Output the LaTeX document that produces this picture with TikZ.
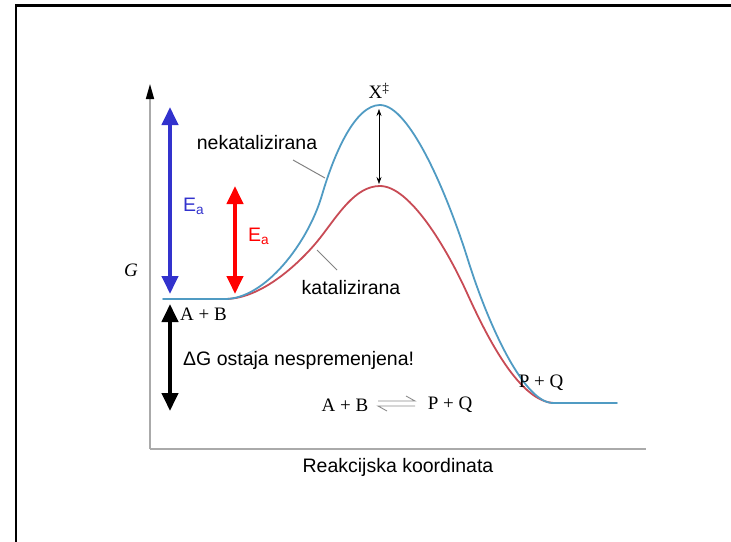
\documentclass[tikz,border=0pt]{standalone}
\usepackage{fontspec}
\setmainfont{Liberation Serif}
\setsansfont{Liberation Sans}
\usetikzlibrary{arrows.meta}
\definecolor{blueC}{RGB}{80,155,195}
\definecolor{redC}{RGB}{200,75,85}
\definecolor{eaBlue}{RGB}{50,50,205}
\definecolor{eaRed}{RGB}{255,0,0}
\definecolor{axisgray}{RGB}{170,170,170}
\definecolor{leadgray}{RGB}{130,130,130}
\definecolor{harpgray}{RGB}{140,140,140}
\begin{document}
\begin{tikzpicture}[x=1pt,y=-1pt,
  sanslab/.style={font=\sffamily\fontsize{19.5}{23}\selectfont, inner sep=0pt},
  seriflab/.style={font=\fontsize{19}{22}\selectfont, inner sep=0pt},
  curve/.style={line width=1.8pt, line join=round, line cap=round},
  bigarrow/.style={line width=4pt, {Triangle[width=16pt,length=18pt]}-{Triangle[width=16pt,length=18pt]}},
  leader/.style={leadgray, line width=1pt},
  harp/.style={harpgray, line width=0.9pt},
]
\useasboundingbox (0,0) rectangle (731,541);
\clip (0,0) rectangle (731,541);
% frame
\draw[line width=2.5pt] (16,560) -- (16,5.5) -- (760,5.5);
% axes
\coordinate (ytop) at (150,84);
\coordinate (orig) at (150,449);
\coordinate (xend) at (646,449);
\draw[axisgray, line width=1.5pt] (orig) -- (xend);
\draw[axisgray, line width=1.5pt, -{Triangle[width=8pt,length=15pt,color=black]}] (orig) -- (ytop);
% catalysed curve
\draw[redC, curve] (225,299)
  .. controls (265,299) and (306,256) .. (320,238)
  .. controls (338,215) and (355,186) .. (380,186)
  .. controls (410,186) and (447,249) .. (467,293)
  .. controls (487,337) and (520,403) .. (555,403);
% uncatalysed curve
\draw[blueC, curve] (163,299) -- (225,299)
  .. controls (265,299) and (308,243) .. (322,195)
  .. controls (334,154) and (355,105) .. (380,105)
  .. controls (410,105) and (448,196) .. (468,260)
  .. controls (490,330) and (525,403) .. (553,403)
  -- (617,403);
% peak difference arrow
\coordinate (pkB) at (379,109);
\coordinate (pkR) at (379,184);
\draw[line width=0.6pt, {Stealth[length=7pt,width=5pt]}-{Stealth[length=7pt,width=5pt]}] (pkB) -- (pkR);
% activation energy arrows
\coordinate (eaBt) at (170,107);
\coordinate (eaBb) at (170,294);
\coordinate (eaRt) at (235,186);
\coordinate (eaRb) at (235,294);
\coordinate (dGt) at (170,304);
\coordinate (dGb) at (170,411);
\draw[bigarrow, eaBlue] (eaBt) -- (eaBb);
\draw[bigarrow, eaRed] (eaRt) -- (eaRb);
\draw[bigarrow, black] (dGt) -- (dGb);
% labels
\node[sanslab, eaBlue, anchor=west] (eaBl) at (183,206) {E\textsubscript{a}};
\node[sanslab, eaRed, anchor=west] (eaRl) at (248,236) {E\textsubscript{a}};
\node[sanslab] (nek) at (257,143) {nekatalizirana};
\node[sanslab] (kat) at (351,288) {katalizirana};
\node[sanslab, anchor=west] (dG) at (183,360) {ΔG ostaja nespremenjena!};
\node[sanslab] (xlab) at (398,467) {Reakcijska koordinata};
\node[seriflab, font=\itshape\fontsize{19}{22}\selectfont] (G) at (131,270) {G};
\node[seriflab, anchor=west] (ab) at (180,314) {A + B};
\node[seriflab] (pq) at (541,383) {P + Q};
\node[seriflab] (ts) at (379,91) {X\textsuperscript{‡}};
% leaders
\coordinate (nekA) at (293,160);
\coordinate (nekB) at (325,178);
\coordinate (katA) at (317,250);
\coordinate (katB) at (337,270);
\draw[leader] (nekA) -- (nekB);
\draw[leader] (katA) -- (katB);
% equilibrium
\node[seriflab] (eqL) at (345,405) {A + B};
\node[seriflab] (eqR) at (450,405) {P + Q};
\coordinate (h1a) at (378,401);
\coordinate (h1b) at (415,401);
\coordinate (h2a) at (378,406);
\coordinate (h2b) at (415,406);
\draw[harp] (h1a) -- (h1b) -- ++(-9,-5);
\draw[harp] (h2b) -- (h2a) -- ++(9,5);
\end{tikzpicture}
\end{document}
